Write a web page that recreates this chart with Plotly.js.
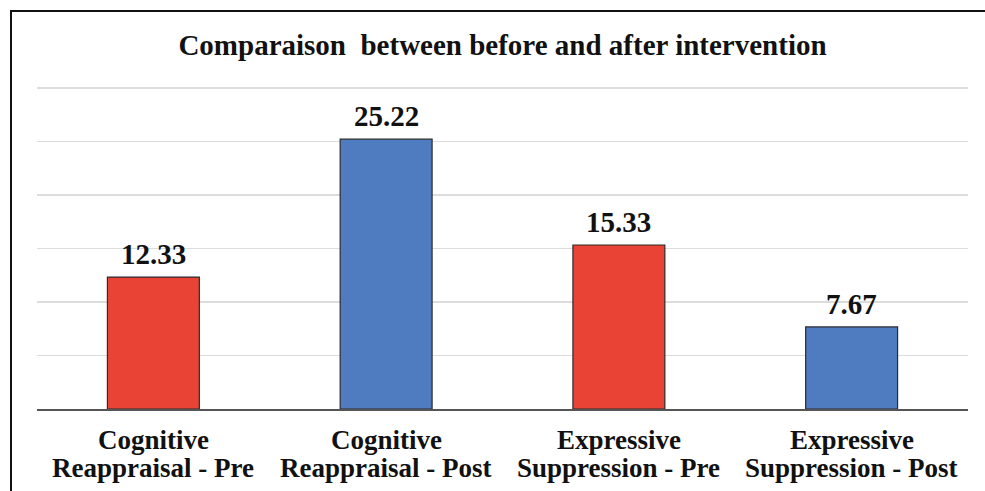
<!DOCTYPE html>
<html>
<head>
<meta charset="utf-8">
<script src="https://cdn.plot.ly/plotly-3.0.1.min.js"></script>
<style>
html,body{margin:0;padding:0;background:#fff;}
#wrap{position:relative;width:985px;height:491px;}
#chart{width:985px;height:491px;}
#bt{position:absolute;left:10px;top:10px;width:975px;height:2px;background:#111;}
#bl{position:absolute;left:10px;top:10px;width:2px;height:481px;background:#111;}
</style>
</head>
<body>
<div id="wrap"><div id="chart"></div><div id="bt"></div><div id="bl"></div></div>
<script>
const categories = ["Cognitive Reappraisal - Pre", "Cognitive Reappraisal - Post", "Expressive Suppression - Pre", "Expressive Suppression - Post"];
const labelLine1 = ["Cognitive", "Cognitive", "Expressive", "Expressive"];
const labelLine2 = ["Reappraisal - Pre", "Reappraisal - Post", "Suppression - Pre", "Suppression - Post"];
const values = [12.33, 25.22, 15.33, 7.67];
const valueLabels = ["12.33", "25.22", "15.33", "7.67"];
const barColors = ["#E94335", "#4F7BC0", "#E94335", "#4F7BC0"];
const titleText = "Comparaison&nbsp; between before and after intervention";

const serif = "Liberation Serif";

const trace = {
  type: "bar",
  x: categories,
  y: values,
  marker: {color: barColors, line: {color: "#2b2b2b", width: 1.2}},
  hoverinfo: "skip"
};

const annotations = [];
categories.forEach((c, i) => {
  annotations.push({
    x: c, y: values[i], xref: "x", yref: "y",
    text: "<b>" + valueLabels[i] + "</b>", showarrow: false,
    yanchor: "bottom", yshift: 5,
    font: {family: serif, size: 29, color: "#111"}
  });
  annotations.push({
    x: c, y: 0, xref: "x", yref: "paper",
    text: "<b>" + labelLine1[i] + "</b>", showarrow: false,
    yanchor: "middle", yshift: -31,
    font: {family: serif, size: 27, color: "#111"}
  });
  annotations.push({
    x: c, y: 0, xref: "x", yref: "paper",
    text: "<b>" + labelLine2[i] + "</b>", showarrow: false,
    yanchor: "middle", yshift: -59,
    font: {family: serif, size: 27, color: "#111"}
  });
});

const layout = {
  width: 985, height: 491,
  margin: {l: 37, r: 17, t: 87, b: 82},
  paper_bgcolor: "#fff", plot_bgcolor: "#fff",
  showlegend: false,
  bargap: 0.605,
  title: {text: "<b>" + titleText + "</b>", x: 0.5, xref: "paper", y: 0.908, yref: "container", yanchor: "middle",
          font: {family: serif, size: 29, color: "#111"}},
  xaxis: {
    showgrid: false, zeroline: false, showline: true, linecolor: "#555", linewidth: 2,
    ticks: "", showticklabels: false
  },
  yaxis: {
    range: [0, 30.1], tick0: 0, dtick: 5, showticklabels: false, ticks: "",
    showgrid: true, gridcolor: "#dcdcdc", gridwidth: 1.5, zeroline: false, showline: false
  },
  annotations: annotations
};

Plotly.newPlot("chart", [trace], layout, {displayModeBar: false, staticPlot: true});
</script>
</body>
</html>
